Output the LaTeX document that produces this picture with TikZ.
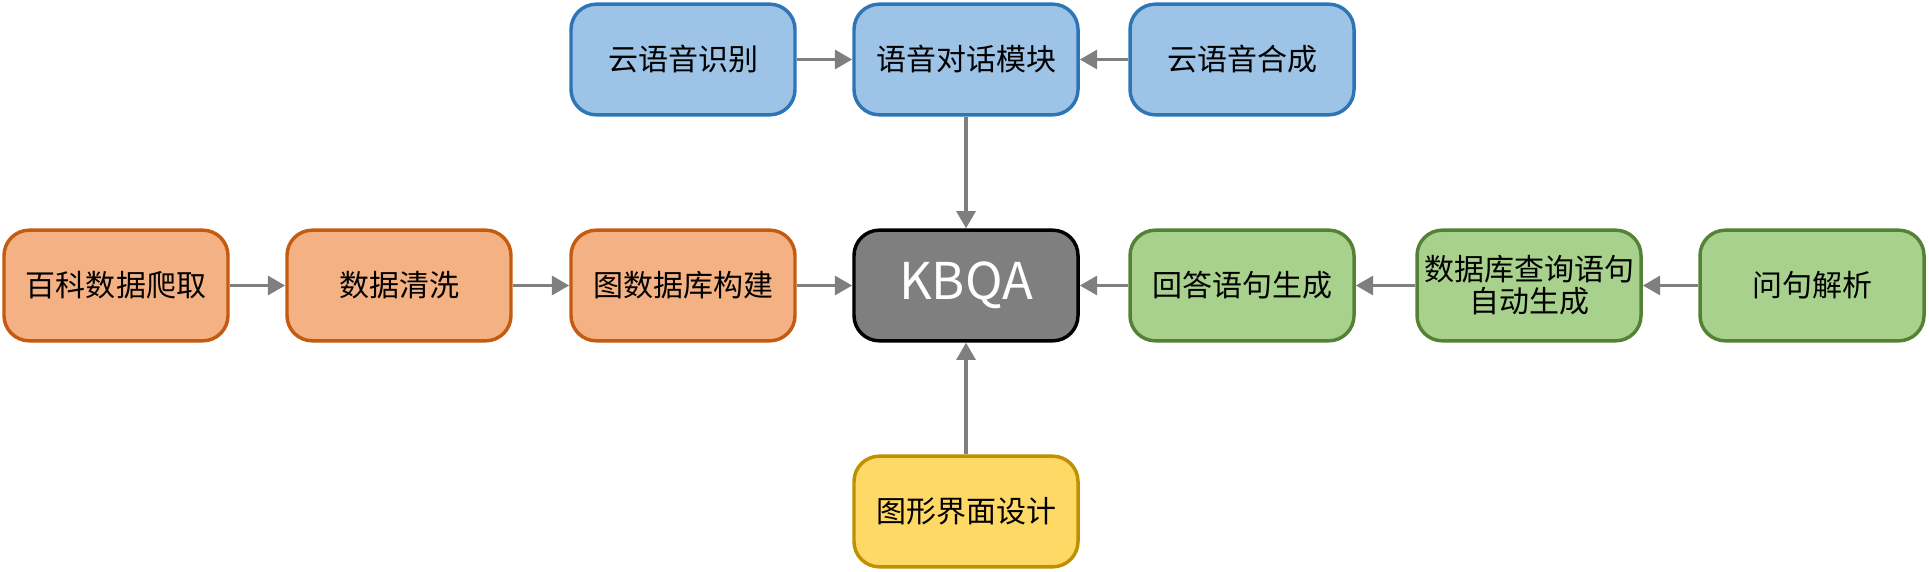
\documentclass[tikz,border=0pt]{standalone}
\usepackage{fontspec}
\setmainfont{Noto Sans CJK SC}
\usetikzlibrary{arrows.meta}

\definecolor{blueFill}{HTML}{9DC3E6}
\definecolor{blueLine}{HTML}{2E75B6}
\definecolor{orangeFill}{HTML}{F4B183}
\definecolor{orangeLine}{HTML}{C55A11}
\definecolor{greenFill}{HTML}{A9D18E}
\definecolor{greenLine}{HTML}{548235}
\definecolor{yellowFill}{HTML}{FFD966}
\definecolor{yellowLine}{HTML}{BF9000}
\definecolor{arrowGray}{HTML}{7F7F7F}

\begin{document}
\begin{tikzpicture}[x=0.75pt,y=-0.75pt]
\tikzstyle{box}=[draw, line width=2.6pt, rounded corners=19pt, minimum width=168pt,
  minimum height=83pt, align=center, font=\fontsize{22.5}{28}\selectfont, text=black]
\tikzstyle{bluebox}=[box, fill=blueFill, draw=blueLine]
\tikzstyle{orangebox}=[box, fill=orangeFill, draw=orangeLine]
\tikzstyle{greenbox}=[box, fill=greenFill, draw=greenLine]
\tikzstyle{yellowbox}=[box, fill=yellowFill, draw=yellowLine]
\tikzstyle{arr}=[draw=arrowGray, line width=2.9pt, -{Triangle[length=13pt,width=14pt]}, arrowGray]
\useasboundingbox (0,0) rectangle (1929,571);
% top row
\node[bluebox] (asr) at (683,59.5) {云语音识别};
\node[bluebox] (dialog) at (966,59.5) {语音对话模块};
\node[bluebox] (tts) at (1242,59.5) {云语音合成};
% middle row
\node[orangebox] (crawl) at (116,285.5) {百科数据爬取};
\node[orangebox] (clean) at (399,285.5) {数据清洗};
\node[orangebox] (graph) at (683,285.5) {图数据库构建};
\node[box, fill=arrowGray, draw=black, text=white, font=\fontsize{38}{40}\selectfont] (kbqa) at (966,285.5) {KBQA};
\node[greenbox] (answer) at (1242,285.5) {回答语句生成};
\node[greenbox] (query) at (1529,285.5) {数据库查询语句\\[-4pt]自动生成};
\node[greenbox] (parse) at (1812,285.5) {问句解析};
% bottom
\node[yellowbox] (gui) at (966,511.5) {图形界面设计};
% arrows
\draw[arr] (asr) -- (dialog);
\draw[arr] (tts) -- (dialog);
\draw[arr] (dialog) -- (kbqa);
\draw[arr] (crawl) -- (clean);
\draw[arr] (clean) -- (graph);
\draw[arr] (graph) -- (kbqa);
\draw[arr] (parse) -- (query);
\draw[arr] (query) -- (answer);
\draw[arr] (answer) -- (kbqa);
\draw[arr] (gui) -- (kbqa);
\end{tikzpicture}
\end{document}
